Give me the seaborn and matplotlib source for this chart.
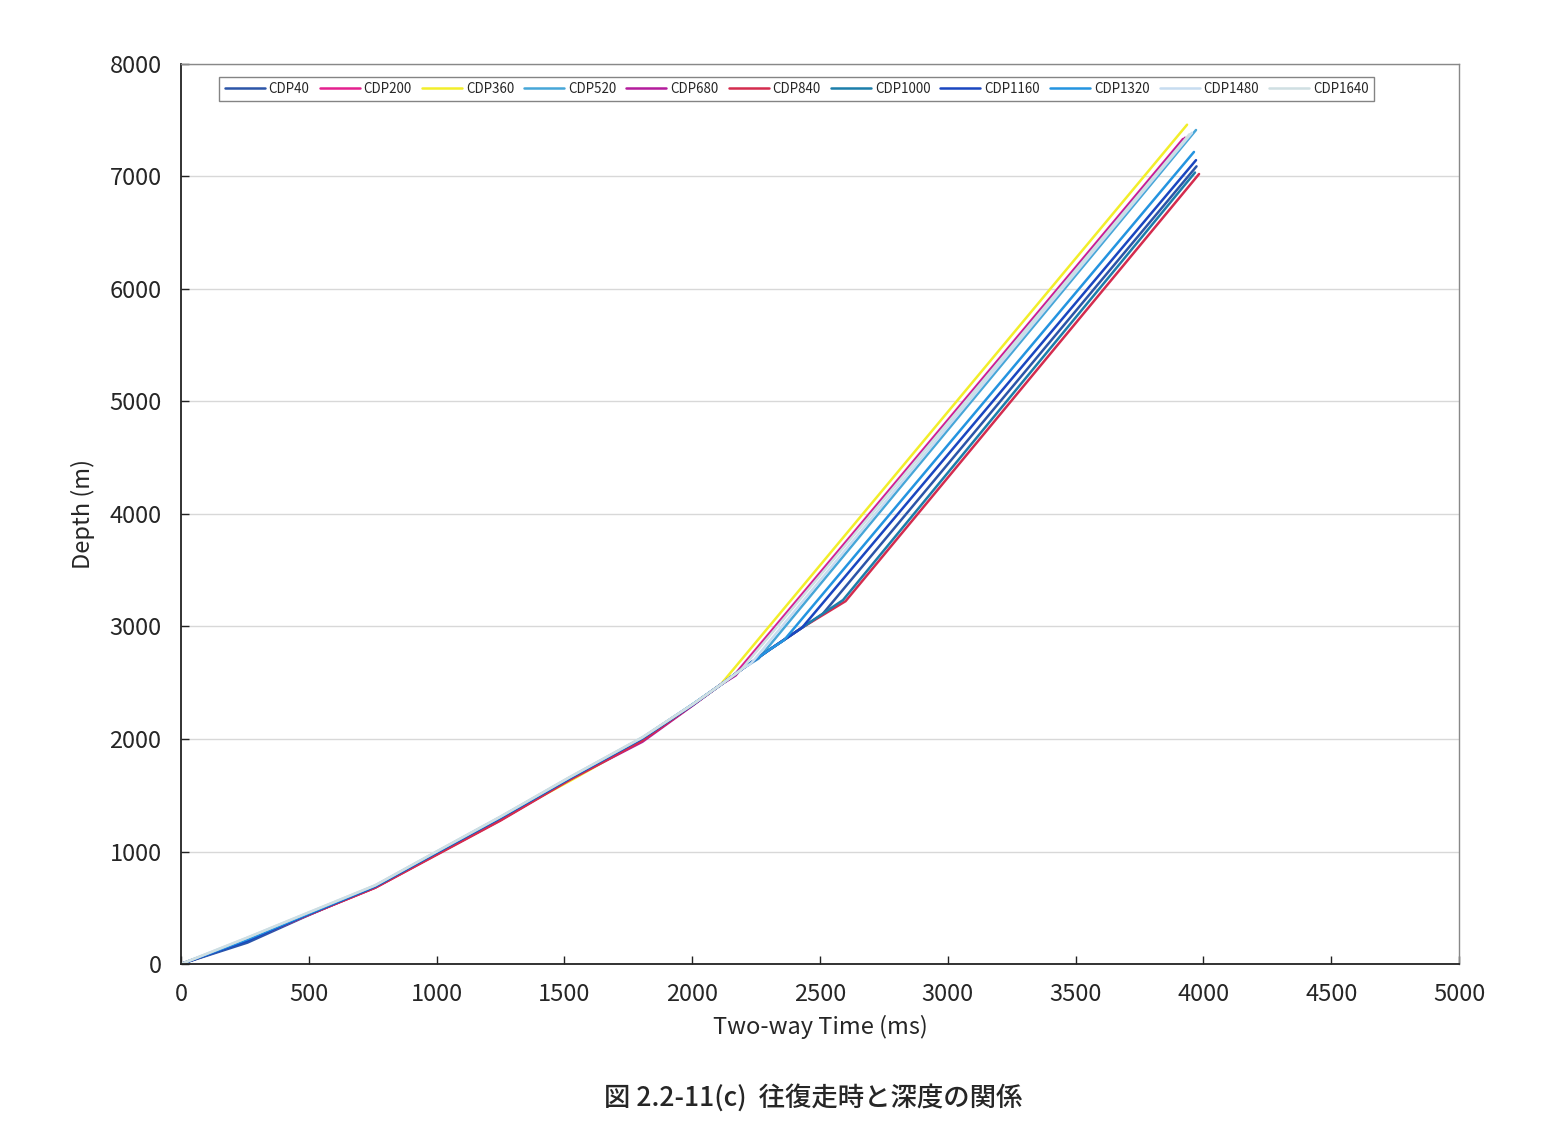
"""
Two-way time vs depth curves for several CDP positions
"""
import numpy as np
import pandas as pd
import matplotlib
matplotlib.use("Agg")
import matplotlib.pyplot as plt
import seaborn as sns

# shallow part, shared time samples (ms)
shallow_time = [0, 260, 480, 760, 1000, 1250, 1520, 1805, 2000, 2110]

# depth (m) at shallow_time for each CDP
cdp40_shallow = [0, 190, 415, 690, 990, 1300, 1645, 2000, 2300, 2480]
cdp200_shallow = [0, 210, 420, 680, 975, 1280, 1640, 1985, 2300, 2480]
cdp360_shallow = [0, 215, 425, 690, 990, 1295, 1625, 1990, 2300, 2480]
cdp520_shallow = [0, 220, 430, 695, 995, 1305, 1655, 2010, 2305, 2480]
cdp680_shallow = [0, 210, 420, 680, 975, 1280, 1640, 1975, 2295, 2480]
cdp840_shallow = [0, 210, 420, 678, 970, 1275, 1635, 1985, 2300, 2480]
cdp1000_shallow = [0, 205, 425, 690, 990, 1300, 1650, 2010, 2305, 2480]
cdp1160_shallow = [0, 205, 425, 690, 990, 1300, 1650, 2005, 2300, 2480]
cdp1320_shallow = [0, 220, 430, 695, 995, 1305, 1655, 2010, 2305, 2480]
cdp1480_shallow = [0, 235, 440, 700, 1000, 1310, 1660, 2015, 2305, 2480]
cdp1640_shallow = [0, 235, 440, 700, 1000, 1310, 1660, 2015, 2305, 2480]

# deep part after 2110 ms: time (ms) and depth (m)
cdp40_deep_t = [2200, 2300, 2430, 2510, 3973]
cdp40_deep_d = [2630, 2790, 2990, 3110, 7090]
cdp200_deep_t = [2160, 3920]
cdp200_deep_d = [2555, 7333]
cdp360_deep_t = [3936]
cdp360_deep_d = [7460]
cdp520_deep_t = [2200, 2260, 3971]
cdp520_deep_d = [2630, 2715, 7413]
cdp680_deep_t = [2170, 3928]
cdp680_deep_d = [2565, 7344]
cdp840_deep_t = [2200, 2300, 2430, 2600, 3983]
cdp840_deep_d = [2630, 2790, 2990, 3225, 7022]
cdp1000_deep_t = [2200, 2300, 2430, 2590, 3967]
cdp1000_deep_d = [2630, 2790, 2990, 3235, 7035]
cdp1160_deep_t = [2200, 2300, 2430, 3971]
cdp1160_deep_d = [2630, 2790, 2990, 7145]
cdp1320_deep_t = [2200, 2300, 2360, 3963]
cdp1320_deep_d = [2630, 2790, 2880, 7218]
cdp1480_deep_t = [2200, 2230, 3955]
cdp1480_deep_d = [2630, 2670, 7388]
cdp1640_deep_t = [2190, 3945]
cdp1640_deep_d = [2612, 7375]

cdp_names = ["CDP40", "CDP200", "CDP360", "CDP520", "CDP680", "CDP840",
             "CDP1000", "CDP1160", "CDP1320", "CDP1480", "CDP1640"]
cdp_colors = ["#2c55a8", "#e4208e", "#f2ee2a", "#46a6d8", "#b41c9c", "#d42c4e",
              "#1c7eaa", "#1a46c0", "#2494e0", "#c6dcf0", "#cfdfe2"]

shallow_depths = [cdp40_shallow, cdp200_shallow, cdp360_shallow, cdp520_shallow,
                  cdp680_shallow, cdp840_shallow, cdp1000_shallow, cdp1160_shallow,
                  cdp1320_shallow, cdp1480_shallow, cdp1640_shallow]
deep_times = [cdp40_deep_t, cdp200_deep_t, cdp360_deep_t, cdp520_deep_t,
              cdp680_deep_t, cdp840_deep_t, cdp1000_deep_t, cdp1160_deep_t,
              cdp1320_deep_t, cdp1480_deep_t, cdp1640_deep_t]
deep_depths = [cdp40_deep_d, cdp200_deep_d, cdp360_deep_d, cdp520_deep_d,
               cdp680_deep_d, cdp840_deep_d, cdp1000_deep_d, cdp1160_deep_d,
               cdp1320_deep_d, cdp1480_deep_d, cdp1640_deep_d]

caption = "図 2.2-11(c)  往復走時と深度の関係"

# long-form table for seaborn
rows = []
for name, sd, dt, dd in zip(cdp_names, shallow_depths, deep_times, deep_depths):
    times = shallow_time + dt
    depths = sd + dd
    for i, (t, d) in enumerate(zip(times, depths)):
        rows.append({"cdp": name, "order": i, "time": t, "depth": d})
df = pd.DataFrame(rows)

sns.set_theme(style="white")
plt.rcParams["font.family"] = ["Noto Sans CJK JP", "DejaVu Sans"]

fig = plt.figure(figsize=(15.52, 11.36), dpi=100)
ax = fig.add_axes([0.1166, 0.1514, 0.8235, 0.7923])

sns.lineplot(data=df, x="time", y="depth", hue="cdp", hue_order=cdp_names,
             palette=dict(zip(cdp_names, cdp_colors)), sort=False,
             estimator=None, units="cdp", linewidth=1.8, ax=ax)

ax.set_xlim(0, 5000)
ax.set_ylim(0, 8000)
ax.set_xticks(np.arange(0, 5001, 500))
ax.set_yticks(np.arange(0, 8001, 1000))
ax.yaxis.grid(True, color="#d8d8d8", linewidth=1.0)
ax.xaxis.grid(False)
ax.set_axisbelow(True)
ax.tick_params(axis="both", direction="in", length=6, width=1, labelsize=17,
               color="#222222", bottom=True, left=True)
ax.tick_params(axis="x", pad=14)
ax.tick_params(axis="y", pad=14)

for side in ["left", "bottom"]:
    ax.spines[side].set_color("#222222")
    ax.spines[side].set_linewidth(1.3)
for side in ["top", "right"]:
    ax.spines[side].set_color("#888888")
    ax.spines[side].set_linewidth(1.0)

ax.set_xlabel("Two-way Time (ms)", fontsize=17, labelpad=6)
ax.set_ylabel("Depth (m)", fontsize=17, labelpad=10)

handles, labels = ax.get_legend_handles_labels()
leg = ax.legend(handles, labels, loc="upper left", bbox_to_anchor=(0.030, 0.986),
                ncol=11, fontsize=9.6, frameon=True, fancybox=False,
                handlelength=3.0, handletextpad=0.3, columnspacing=0.75,
                borderpad=0.4, borderaxespad=0)
leg.get_frame().set_edgecolor("#666666")
leg.get_frame().set_linewidth(1.0)

fig.text(0.524, 0.034, caption, ha="center", va="center", fontsize=19,
         fontweight="medium")

plt.savefig("out.png", dpi=100)
plt.close()
